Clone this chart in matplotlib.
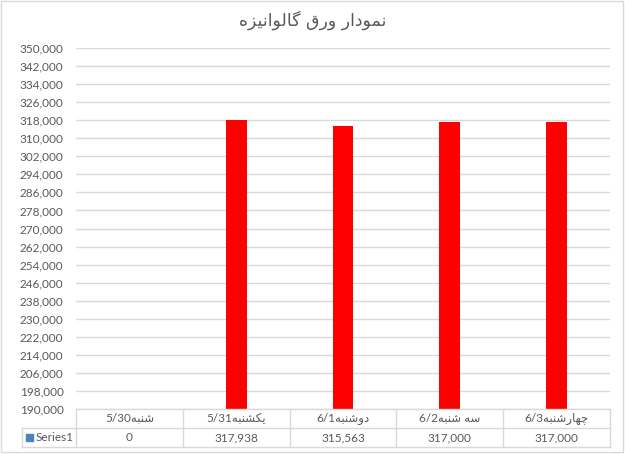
import matplotlib
matplotlib.use("Agg")
import matplotlib.pyplot as plt
from matplotlib.lines import Line2D
from matplotlib.patches import Rectangle
import numpy as np

# ---------------- data ----------------
title = "نمودار ورق گالوانیزه"
categories = ["شنبه5/30", "یکشنبه5/31", "دوشنبه6/1", "سه شنبه6/2", "چهارشنبه6/3"]
values = [0, 317938, 315563, 317000, 317000]
value_labels = ["0", "317,938", "315,563", "317,000", "317,000"]
series_name = "Series1"
y_min, y_max, y_step = 190000, 350000, 8000

# ---------------- minimal Arabic shaping (presentation forms) ----------------
FORMS = {
    'ا': (0xFE8D, 0xFE8E, None, None),
    'د': (0xFEA9, 0xFEAA, None, None),
    'ر': (0xFEAD, 0xFEAE, None, None),
    'ز': (0xFEAF, 0xFEB0, None, None),
    'و': (0xFEED, 0xFEEE, None, None),
    'ب': (0xFE8F, 0xFE90, 0xFE91, 0xFE92),
    'ت': (0xFE95, 0xFE96, 0xFE97, 0xFE98),
    'چ': (0xFB7A, 0xFB7B, 0xFB7C, 0xFB7D),
    'س': (0xFEB1, 0xFEB2, 0xFEB3, 0xFEB4),
    'ش': (0xFEB5, 0xFEB6, 0xFEB7, 0xFEB8),
    'ق': (0xFED5, 0xFED6, 0xFED7, 0xFED8),
    'ک': (0xFB8E, 0xFB8F, 0xFB90, 0xFB91),
    'گ': (0xFB92, 0xFB93, 0xFB94, 0xFB95),
    'ل': (0xFEDD, 0xFEDE, 0xFEDF, 0xFEE0),
    'م': (0xFEE1, 0xFEE2, 0xFEE3, 0xFEE4),
    'ن': (0xFEE5, 0xFEE6, 0xFEE7, 0xFEE8),
    'ه': (0xFEE9, 0xFEEA, 0xFEEB, 0xFEEC),
    'ی': (0xFBFC, 0xFBFD, 0xFBFE, 0xFBFF),
}


def _dual(c):
    return c in FORMS and FORMS[c][2] is not None


def shape_run(s):
    out = []
    for i, c in enumerate(s):
        if c not in FORMS:
            out.append(c)
            continue
        prev_j = i > 0 and _dual(s[i - 1])
        next_j = i < len(s) - 1 and s[i + 1] in FORMS
        iso, fin, ini, med = FORMS[c]
        if ini is None:
            cp = fin if prev_j else iso
        else:
            if prev_j and next_j:
                cp = med
            elif prev_j:
                cp = fin
            elif next_j:
                cp = ini
            else:
                cp = iso
        out.append(chr(cp))
    return "".join(out)


def is_arabic(c):
    return c in FORMS or ('\u0600' <= c <= '\u06FF')


def visual(s):
    runs = []
    cur, cur_ar = "", None
    for c in s:
        a = is_arabic(c) or (c == ' ' and cur_ar)
        if cur_ar is None or a == cur_ar:
            cur += c
            cur_ar = a if cur_ar is None else cur_ar
        else:
            runs.append((cur, cur_ar))
            cur, cur_ar = c, a
    if cur:
        runs.append((cur, cur_ar))
    parts = []
    for text, ar in reversed(runs):
        parts.append(shape_run(text)[::-1] if ar else text)
    return "".join(parts)


# ---------------- figure ----------------
W, H = 625, 455
fig = plt.figure(figsize=(W / 100, H / 100), dpi=100)
plt.rcParams['font.family'] = ['Lato', 'DejaVu Sans']

TXT = '#595959'
GRID = '#D9D9D9'


def fx(px):
    return px / W


def fy(py):
    return 1 - py / H


# outer chart border
fig.add_artist(Rectangle((fx(0.5), fy(451.5)), fx(622.5), (451 / H), fill=False,
                         edgecolor=GRID, linewidth=1.0, transform=fig.transFigure))

ax_l, ax_r, ax_t, ax_b = 76, 610, 48, 409
ax = fig.add_axes([fx(ax_l), fy(ax_b), fx(ax_r - ax_l), (ax_b - ax_t) / H])

x = np.arange(len(categories))
ax.bar(x, values, width=0.195, color='#FF0000', zorder=3)
ax.set_xlim(-0.5, len(categories) - 0.5)
ax.set_ylim(y_min, y_max)
yt = np.arange(y_min, y_max + 1, y_step)
ax.set_yticks(yt)
ax.set_yticklabels([f"{v:,}" for v in yt], fontsize=8.5, color=TXT)
ax.tick_params(axis='y', length=0, pad=9)
ax.set_xticks([])
ax.grid(axis='y', color=GRID, linewidth=1.0, zorder=0)
for sp in ax.spines.values():
    sp.set_visible(False)

fig.text(0.5, fy(20), visual(title), ha='center', va='center', fontsize=12.5,
         color=TXT, family=['DejaVu Sans'])

# ---------------- data table ----------------
row1_t, row1_b, row2_b = 409, 428, 447
leg_l = 22
col_edges = np.linspace(ax_l, ax_r, len(categories) + 1)


def hline(x0, x1, y):
    fig.add_artist(Line2D([fx(x0), fx(x1)], [fy(y), fy(y)], color=GRID, lw=1.0,
                          transform=fig.transFigure))


def vline(xp, y0, y1):
    fig.add_artist(Line2D([fx(xp), fx(xp)], [fy(y0), fy(y1)], color=GRID, lw=1.0,
                          transform=fig.transFigure))


hline(ax_l, ax_r, row1_t)
hline(leg_l, ax_r, row1_b)
hline(leg_l, ax_r, row2_b)
for e in col_edges:
    vline(e, row1_t, row2_b)
vline(leg_l, row1_b, row2_b)

for i, (c, v) in enumerate(zip(categories, value_labels)):
    cx = (col_edges[i] + col_edges[i + 1]) / 2
    fig.text(fx(cx), fy((row1_t + row1_b) / 2), visual(c), ha='center', va='center',
             fontsize=8.5, color=TXT)
    fig.text(fx(cx), fy((row1_b + row2_b) / 2), v, ha='center', va='center',
             fontsize=8.5, color=TXT)

# legend key in table
fig.add_artist(Rectangle((fx(26), fy(441)), fx(7), 7 / H, color='#4F81BD',
                         transform=fig.transFigure))
fig.text(fx(36), fy((row1_b + row2_b) / 2), series_name, ha='left', va='center',
         fontsize=8.5, color=TXT)

fig.savefig("out.png", dpi=100)
